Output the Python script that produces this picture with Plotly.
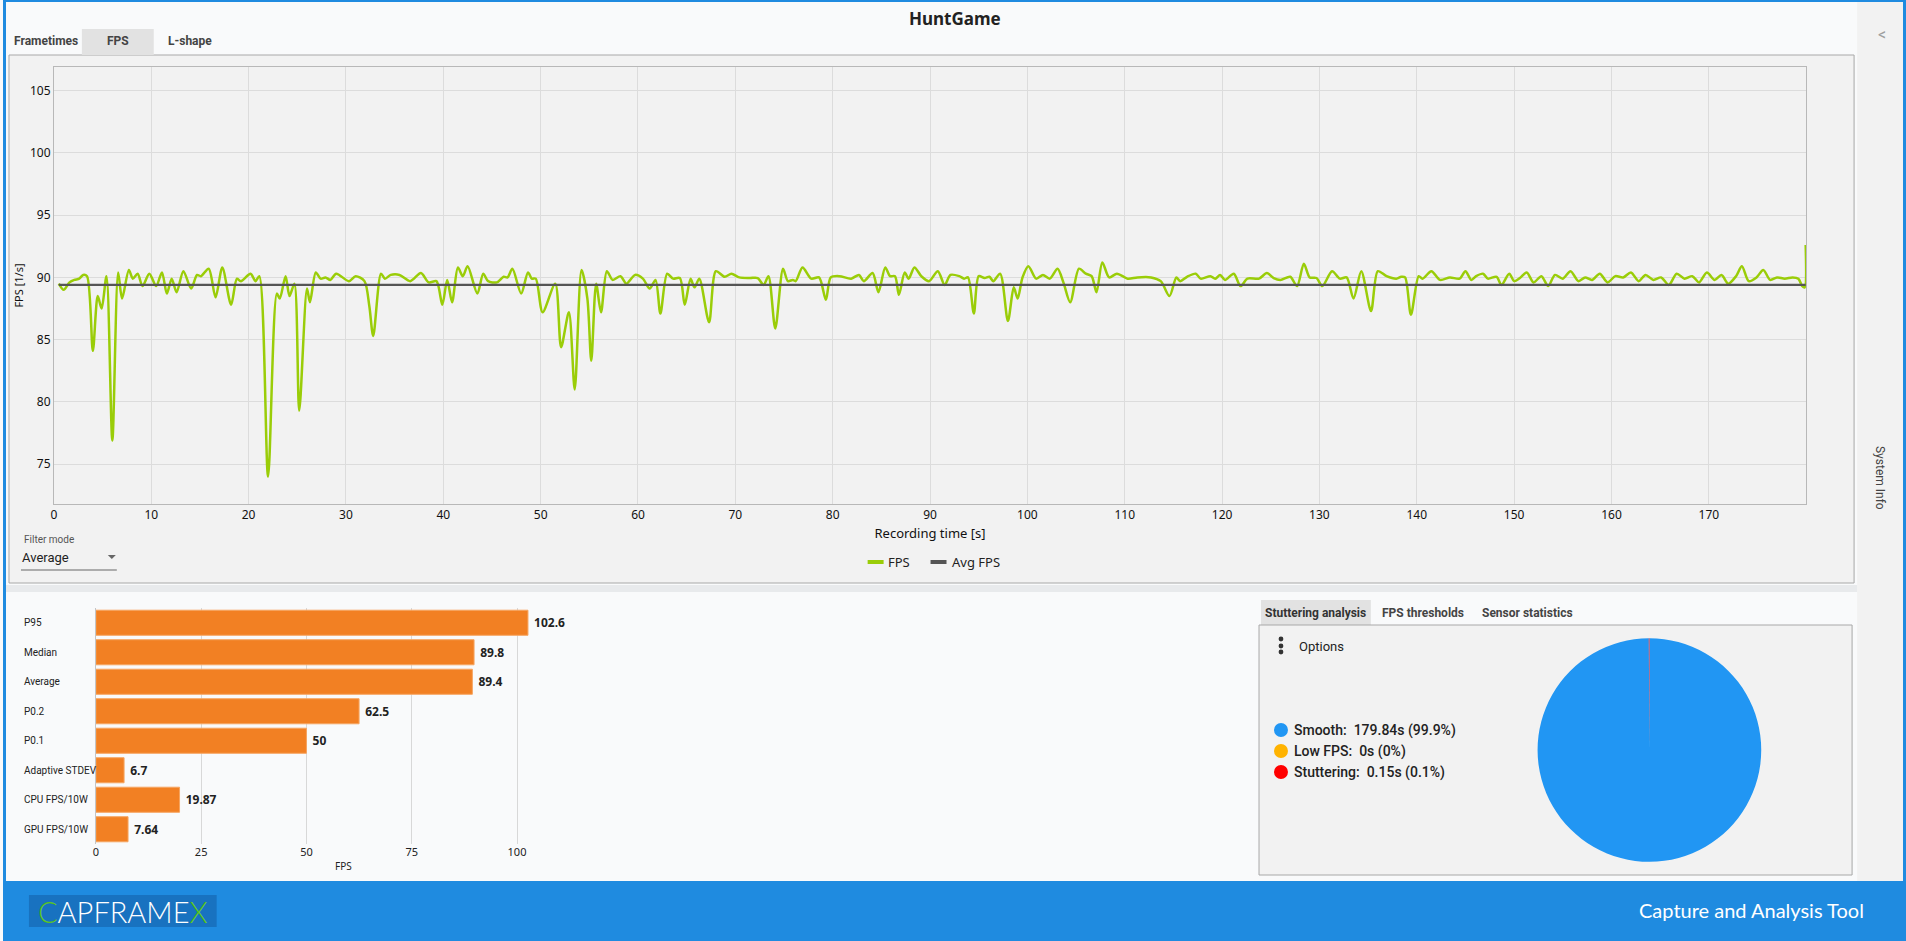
import plotly.graph_objects as go

W, H = 1906, 941
UI = "Roboto"
CHART = "Noto Sans"

# --- FPS trace ---
time_s = [0.5, 1.0, 1.6, 2.1, 2.6, 3.0, 3.4, 4.0, 4.5, 4.9, 5.4, 6.0, 6.6, 7.0, 7.7, 8.1, 8.6, 9.1, 9.8,
          10.5, 11.1, 11.6, 12.1, 12.6, 13.3, 14.1, 14.7, 15.1, 15.9, 16.6, 17.3, 18.2, 18.8, 19.2,
          20.2, 20.7, 21.1, 22.0, 22.9, 23.2, 23.8, 24.2, 24.7, 25.2, 26.0, 26.3, 26.9, 27.4, 27.9,
          28.4, 29.0, 30.3, 31.0, 31.9, 32.4, 32.8, 33.6, 34.0, 34.6, 35.5, 36.6, 37.7, 38.5, 39.3,
          39.9, 40.4, 40.9, 41.5, 42.0, 42.5, 43.5, 44.1, 44.6, 45.5, 46.2, 46.6, 47.1, 48.0, 48.7,
          49.1, 49.5, 50.2, 51.5, 52.1, 52.9, 53.5, 54.2, 54.8, 55.2, 55.7, 56.2, 56.8, 57.4, 58.2,
          58.8, 59.7, 60.5, 61.2, 61.8, 62.3, 63.0, 63.6, 64.3, 64.8, 65.4, 65.8, 66.3, 67.3, 68.0,
          68.9, 69.6, 70.4, 71.5, 72.3, 72.9, 73.4, 74.1, 74.9, 75.4, 75.9, 76.2, 76.9, 77.8, 78.6,
          79.3, 79.8, 80.7, 81.9, 82.7, 83.2, 84.1, 84.7, 85.4, 85.9, 86.4, 86.8, 87.4, 87.8, 88.4,
          89.1, 89.9, 90.8, 91.5, 92.1, 93.0, 93.5, 93.9, 94.5, 95.0, 95.6, 96.1, 96.5, 97.2, 98.0,
          98.6, 99.0, 99.5, 100.1, 100.9, 101.6, 102.3, 103.1, 103.7, 104.4, 105.3, 106.0, 106.6,
          107.1, 107.7, 108.4, 109.2, 110.3, 111.3, 112.7, 113.7, 114.6, 115.3, 115.7, 116.4, 117.3,
          117.8, 118.8, 119.3, 119.8, 120.3, 121.2, 121.9, 122.6, 123.8, 124.6, 125.3, 126.0, 127.0,
          127.7, 128.4, 129.0, 129.7, 130.3, 131.3, 132.1, 132.8, 133.5, 134.3, 135.3, 136.0, 136.9,
          137.9, 138.4, 138.8, 139.4, 140.2, 140.6, 141.5, 142.4, 143.4, 144.4, 145.0, 145.6, 146.1,
          146.8, 147.3, 148.2, 148.7, 149.5, 150.0, 150.6, 151.3, 152.0, 152.8, 153.5, 154.2, 155.0,
          155.8, 156.6, 157.3, 158.0, 158.8, 159.6, 160.4, 161.2, 162.0, 162.8, 163.5, 164.3, 165.1,
          165.9, 166.7, 167.5, 168.3, 169.0, 169.8, 170.6, 171.3, 172.0, 172.8, 173.4, 174.1, 174.9,
          175.6, 176.3, 177.0, 177.8, 178.6, 179.2, 179.6, 179.85, 179.95]
fps = [89.5, 89.0, 89.6, 89.8, 89.9, 90.2, 90.1, 84.1, 88.5, 87.5, 90.1, 76.9, 90.4, 88.3, 90.6, 89.9, 90.3, 89.3, 90.3,
       89.3, 90.4, 88.7, 89.9, 88.8, 90.5, 89.1, 90.2, 90.1, 90.7, 88.4, 90.8, 87.8, 89.9, 89.7,
       90.3, 89.7, 90.1, 74.0, 88.7, 88.3, 90.1, 88.5, 89.5, 79.3, 89.1, 88.0, 90.4, 89.9, 90.0,
       89.8, 90.3, 89.7, 90.1, 89.7, 87.7, 85.3, 90.3, 89.9, 90.2, 90.2, 89.7, 90.35, 89.6, 89.7,
       87.8, 89.8, 88.0, 90.8, 90.1, 90.9, 88.7, 90.3, 89.7, 89.6, 90.05, 90.0, 90.7, 88.7, 90.4,
       89.9, 89.9, 87.2, 89.5, 84.4, 87.2, 81.0, 90.6, 88.3, 83.3, 89.5, 87.2, 90.5, 89.8, 90.1,
       89.5, 90.2, 89.9, 89.1, 89.8, 87.1, 90.3, 89.9, 89.95, 87.8, 89.9, 89.2, 89.9, 86.4, 90.5,
       90.05, 90.3, 90.0, 89.95, 89.95, 89.4, 90.1, 85.9, 90.7, 89.7, 89.8, 89.7, 90.8, 89.9, 90.0,
       88.2, 90.0, 90.1, 89.9, 90.2, 89.7, 90.35, 88.8, 90.8, 90.1, 90.1, 88.6, 90.4, 89.9, 90.8,
       90.1, 89.7, 90.5, 89.4, 90.2, 90.1, 89.9, 90.0, 87.1, 90.1, 89.95, 90.05, 89.7, 90.3, 86.5,
       89.2, 88.3, 90.0, 90.9, 89.9, 90.2, 89.9, 90.7, 89.6, 88.0, 90.7, 90.3, 90.1,
       88.8, 91.2, 90.0, 90.3, 89.9, 90.0, 90.0, 89.7, 88.5, 90.0, 89.7, 90.05, 90.3,
       89.9, 90.1, 89.9, 90.2, 89.8, 90.3, 89.3, 89.9, 89.9, 90.35, 89.95, 89.8, 90.05,
       89.3, 91.1, 90.0, 89.95, 89.3, 90.5, 89.9, 90.0, 88.3, 90.5, 87.3, 90.5, 90.1,
       89.9, 90.05, 90.0, 87.0, 90.1, 89.9, 90.5, 89.8, 90.0, 89.9, 90.5, 89.8, 90.1,
       90.3, 89.9, 90.05, 89.4, 90.3, 89.7, 89.95, 90.4, 89.6, 90.1, 89.3, 90.2, 89.9,
       90.5, 89.7, 90.0, 89.8, 90.3, 89.6, 90.1, 90.0, 90.4, 89.7, 90.2, 89.8, 90.0,
       89.4, 90.3, 89.9, 90.1, 89.6, 90.4, 89.8, 90.2, 89.5, 90.1, 90.9, 89.7, 90.0,
       90.6, 89.8, 90.0, 89.9, 90.0, 89.9, 89.3, 89.2, 92.6]
avg_fps = 89.4
x_ticks = [0, 10, 20, 30, 40, 50, 60, 70, 80, 90, 100, 110, 120, 130, 140, 150, 160, 170]
y_ticks = [75, 80, 85, 90, 95, 100, 105]

# --- summary metrics ---
metric_names = ["P95", "Median", "Average", "P0.2", "P0.1", "Adaptive STDEV", "CPU FPS/10W", "GPU FPS/10W"]
metric_values = [102.6, 89.8, 89.4, 62.5, 50, 6.7, 19.87, 7.64]
bar_ticks = [0, 25, 50, 75, 100]

# --- stuttering analysis ---
stutter_names = ["Smooth", "Low FPS", "Stuttering"]
stutter_secs = [179.84, 0, 0.15]

FPS_COLOR = "#9ACD08"
AVG_COLOR = "#555555"
BAR_COLOR = "#F28023"
STUTTER_COLORS = ["#2196F3", "#FFB300", "#FF0000"]
BLUE = "#1F8BE0"


def px(x):
    return x / W


def py(y):
    return 1 - y / H


def rect(x0, y0, x1, y1, fill, line=None, layer="below"):
    return dict(type="rect", xref="paper", yref="paper", x0=px(x0), x1=px(x1), y0=py(y1), y1=py(y0),
                fillcolor=fill, line=dict(width=1 if line else 0, color=line or fill), layer=layer)


def hline(x0, x1, y, color, width):
    return dict(type="line", xref="paper", yref="paper", x0=px(x0), x1=px(x1), y0=py(y), y1=py(y),
                line=dict(color=color, width=width), layer="above")


def dot(cx, cy, r, color):
    return dict(type="circle", xref="paper", yref="paper", x0=px(cx - r), x1=px(cx + r),
                y0=py(cy + r), y1=py(cy - r), fillcolor=color, line=dict(width=0), layer="above")


def text(x, y, s, size, color="#222", anchor="left", family=UI, weight="normal", **kw):
    return dict(xref="paper", yref="paper", x=px(x), y=py(y), text=s, showarrow=False,
                xanchor=anchor, yanchor="middle",
                font=dict(family=family, size=size, color=color, weight=weight), **kw)


fig = go.Figure()

fig.add_trace(go.Scatter(x=time_s, y=fps, mode="lines", name="FPS",
                         line=dict(color=FPS_COLOR, width=2.5, shape="spline", smoothing=0.8),
                         xaxis="x", yaxis="y"))
fig.add_trace(go.Scatter(x=[time_s[0], time_s[-1]], y=[avg_fps, avg_fps], mode="lines", name="Avg FPS",
                         line=dict(color=AVG_COLOR, width=2.2), xaxis="x", yaxis="y"))

fig.add_trace(go.Bar(x=metric_values, y=metric_names, orientation="h",
                     marker=dict(color=BAR_COLOR, line=dict(color="#F6A561", width=1)),
                     text=[f"\u00a0<b>{v}</b>" for v in metric_values], textposition="outside",
                     textfont=dict(family=CHART, size=12, color="#222"), constraintext="none",
                     cliponaxis=False, xaxis="x2", yaxis="y2"))

fig.add_trace(go.Pie(labels=stutter_names, values=stutter_secs, sort=False, direction="clockwise",
                     rotation=0, textinfo="none", marker=dict(colors=STUTTER_COLORS, line=dict(width=0)),
                     domain=dict(x=[px(1537), px(1761)], y=[py(862), py(638)])))

shapes = [
    rect(1857, 2, 1903, 881, "#F2F2F2"),
    rect(6, 55, 1854, 583, "#F2F2F2", "#A8A8A8"),
    rect(79, 29, 151, 55, "#E2E2E2"),
    rect(3, 585, 1857, 592, "#E8EAEC"),
    rect(1260, 600, 1370, 625, "#E2E2E2"),
    rect(1258, 625, 1852, 875, "#F2F2F2", "#A8A8A8"),
    rect(0, 881, W, H, BLUE),
    rect(0, 0, W, 2, BLUE),
    rect(0, 0, 3, H, BLUE),
    rect(1903, 0, W, H, BLUE),
    rect(26, 895, 214, 927, "rgba(10,55,120,0.30)", layer="above"),
    hline(18, 114, 570, "#666666", 1),
    dict(type="path", xref="paper", yref="paper", layer="above", fillcolor="#666666", line=dict(width=0),
         path=f"M {px(105)} {py(555)} L {px(113)} {py(555)} L {px(109)} {py(559)} Z"),
    hline(866, 882, 562, FPS_COLOR, 4),
    hline(929, 945, 562, AVG_COLOR, 4),
]
shapes += [dot(1280, y, 2.4, "#333333") for y in (639, 646, 652)]

annotations = [
    text(953, 18, "<b>HuntGame</b>", 17, "#222", "center", CHART),
    text(43, 41, "<b>Frametimes</b>", 12, "#444", "center"),
    text(115, 41, "<b>FPS</b>", 12, "#444", "center"),
    text(187, 41, "<b>L-shape</b>", 12, "#444", "center"),
    text(19, 539, "Filter mode", 10, "#555"),
    text(17, 557, "Average", 13, "#222"),
    text(884, 562, "FPS", 13, "#222", family=CHART),
    text(948, 562, "Avg FPS", 13, "#222", family=CHART),
    text(341, 866, "FPS", 10, "#222", "center", CHART),
    text(1315, 613, "<b>Stuttering analysis</b>", 12, "#333", "center"),
    text(1422, 613, "<b>FPS thresholds</b>", 12, "#444", "center"),
    text(1527, 613, "<b>Sensor statistics</b>", 12, "#444", "center"),
    text(1296, 646, "Options", 13, "#222"),
    text(1882, 34, "<", 16, "#9E9E9E", "center"),
    text(1880, 478, "System Info", 12, "#444", "center", textangle=90),
    text(33, 911, "<span style='color:#5CC61E'>C</span>APFRAME<span style='color:#5CC61E'>X</span>",
         29, "#FFFFFF", family="Lato", weight=300),
    text(1866, 910, "Capture and Analysis Tool", 20, "#FFFFFF", "right", "Lato"),
]
for name in metric_names:
    annotations.append(dict(xref="paper", yref="y2", x=px(19), y=name, text=name, showarrow=False,
                            xanchor="left", yanchor="middle", font=dict(family=UI, size=10, color="#222")))

total = sum(stutter_secs)
for i, (name, secs) in enumerate(zip(stutter_names, stutter_secs)):
    yy = 730 + 21 * i
    pct = round(secs / total * 100, 1)
    shapes.append(dot(1280, yy, 7, STUTTER_COLORS[i]))
    annotations.append(text(1291, yy, f"{name}:  {secs:g}s ({pct:g}%)", 14, "#222", weight=500))

axis_font = dict(family=CHART, size=12, color="#111")
fig.update_layout(
    width=W, height=H, margin=dict(l=0, r=0, t=0, b=0),
    paper_bgcolor="#F9FAFB", plot_bgcolor="rgba(0,0,0,0)",
    showlegend=False, bargap=0.15,
    xaxis=dict(domain=[px(51), px(1806)], range=[0, 180], tickvals=x_ticks, showgrid=True,
               gridcolor="#DCDCDC", showline=True, mirror=True, linecolor="#B8B8B8", zeroline=False,
               tickfont=axis_font, ticks="", anchor="y",
               title=dict(text="Recording time [s]", font=dict(family=CHART, size=13, color="#111"), standoff=6)),
    yaxis=dict(domain=[py(504), py(67)], range=[71.8, 106.9], tickvals=y_ticks, showgrid=True,
               gridcolor="#DCDCDC", showline=True, mirror=True, linecolor="#B8B8B8", zeroline=False,
               tickfont=axis_font, ticks="", anchor="x",
               title=dict(text="FPS [1/s]", font=dict(family=CHART, size=11, color="#111"), standoff=4)),
    xaxis2=dict(domain=[px(93), px(557)], range=[0, 110], tickvals=bar_ticks, showgrid=True,
                gridcolor="#D8D8D8", zeroline=False, showline=False, ticks="", anchor="y2",
                tickfont=dict(family=CHART, size=11, color="#222")),
    yaxis2=dict(domain=[py(844), py(608)], categoryorder="array", categoryarray=metric_names,
                autorange="reversed", showticklabels=False, showgrid=False, showline=True,
                linecolor="#C4C4C4", zeroline=False, ticks="", anchor="x2"),
    shapes=shapes, annotations=annotations,
)

fig.write_html("out.html", config={"displayModeBar": False},
               post_script="document.body.style.margin='0';document.body.style.overflow='hidden';")
